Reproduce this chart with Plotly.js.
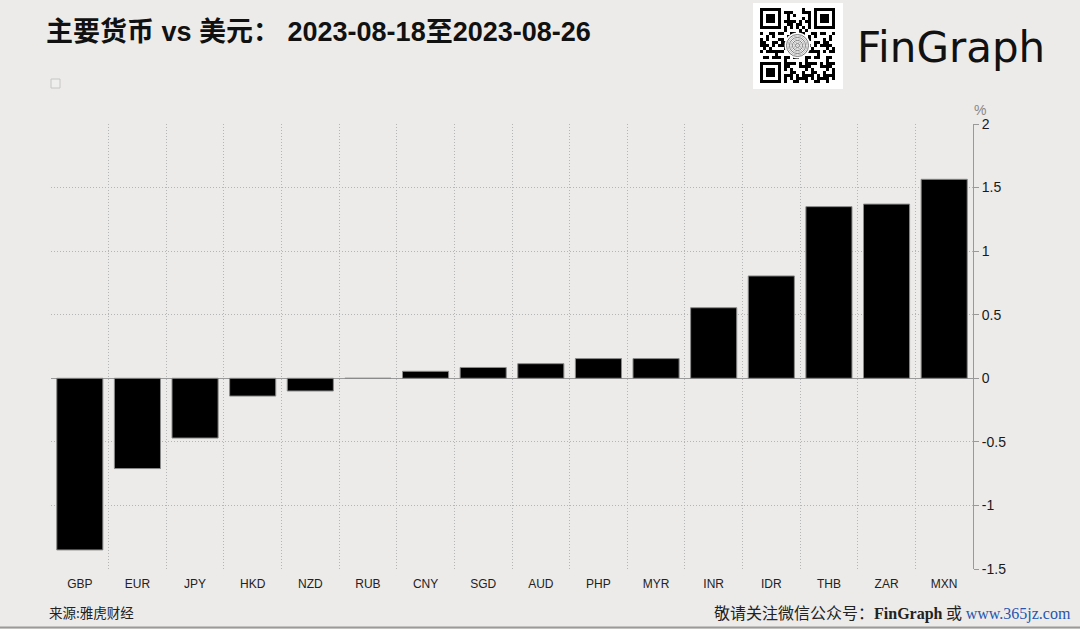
<!DOCTYPE html>
<html>
<head>
<meta charset="utf-8">
<script src="https://cdn.plot.ly/plotly-3.0.1.min.js"></script>
<style>
html,body{margin:0;padding:0;background:#ECEBE9;}
#chart{width:1080px;height:629px;}
</style>
</head>
<body>
<div id="chart"></div>
<script>
// ---- data ----
const currencies = ["GBP","EUR","JPY","HKD","NZD","RUB","CNY","SGD","AUD","PHP","MYR","INR","IDR","THB","ZAR","MXN"];
const changePct = [-1.35,-0.71,-0.47,-0.14,-0.10,0,0.055,0.085,0.115,0.155,0.155,0.555,0.805,1.35,1.37,1.565];
const yTickVals = [-1.5,-1,-0.5,0,0.5,1,1.5,2];
const yTickText = ["-1.5","-1","-0.5","0","0.5","1","1.5","2"];
const titleText = "主要货币 vs 美元： 2023-08-18至2023-08-26";
const sourceText = "来源:雅虎财经";

// ---- geometry helpers (plot area in pixels) ----
const PL = 51, PR = 973, PT = 124, PB = 569;
const px = v => (v - PL) / (PR - PL);
const py = v => (PB - v) / (PB - PT);

// decorative QR-like badge
function makeBadge(){
  const c = document.createElement('canvas');
  c.width = 90; c.height = 86;
  const g = c.getContext('2d');
  g.fillStyle = '#ffffff'; g.fillRect(0,0,90,86);
  const N = 25, m = 3, ox = 7, oy = 5;
  const on = (i,j)=>{ g.fillStyle='#000'; g.fillRect(ox+i*m, oy+j*m, m, m); };
  const finder = (fi,fj)=>{
    for(let a=0;a<7;a++)for(let b=0;b<7;b++){
      const edge = a===0||a===6||b===0||b===6;
      const core = a>=2&&a<=4&&b>=2&&b<=4;
      if(edge||core) on(fi+a,fj+b);
    }
  };
  const reserved = (i,j)=> (i<8&&j<8)||(i>=N-8&&j<8)||(i<8&&j>=N-8);
  for(let i=0;i<N;i++)for(let j=0;j<N;j++){
    if(reserved(i,j)) continue;
    if(i===6||j===6){ if((i+j)%2===0) on(i,j); continue; }
    const v = (i*i*3 + j*7 + i*j*5 + (j*j)%11) % 7;
    if(v<3) on(i,j);
  }
  finder(0,0); finder(N-7,0); finder(0,N-7);
  const cx = ox + 12.5*m, cy = oy + 12.5*m;
  g.fillStyle='#ffffff'; g.beginPath(); g.arc(cx,cy,13,0,Math.PI*2); g.fill();
  for(let r=11;r>0;r-=1.5){
    g.strokeStyle = (Math.round(r*2)%2===0)?'#777':'#bbb';
    g.lineWidth = 1;
    g.beginPath(); g.arc(cx,cy,r,0,Math.PI*2); g.stroke();
  }
  return c.toDataURL('image/png');
}

const trace = {
  type: 'bar',
  x: currencies,
  y: changePct,
  marker: {color: '#000000', line: {color: '#8a8a8a', width: 1}},
  hoverinfo: 'skip',
  showlegend: false
};

const gridDash = '1px,2px';

const layout = {
  width: 1080, height: 629, autosize: false,
  paper_bgcolor: '#ECEBE9', plot_bgcolor: '#ECEBE9',
  margin: {l: PL, r: 1080-PR, t: PT, b: 629-PB, pad: 0},
  bargap: 0.2,
  showlegend: false,
  font: {family: '"Liberation Sans", Arial, "Noto Sans CJK SC", sans-serif', color: '#222'},
  title: {
    text: titleText,
    font: {family: '"Liberation Sans", Arial, "Noto Sans CJK SC", sans-serif', size: 27, color: '#111', weight: 'bold'},
    xref: 'container', yref: 'container',
    x: 46/1080, xanchor: 'left',
    y: 1 - 32/629, yanchor: 'middle'
  },
  xaxis: {
    type: 'category',
    tickson: 'boundaries',
    showgrid: true, gridcolor: '#b5b5b5', griddash: gridDash, gridwidth: 1,
    showline: false, zeroline: false,
    ticks: '',
    tickfont: {size: 12, color: '#222', family: '"Liberation Sans", Arial, sans-serif'},
    ticklabelstandoff: 6,
    fixedrange: true
  },
  yaxis: {
    side: 'right',
    range: [-1.5, 2],
    tickmode: 'array', tickvals: yTickVals, ticktext: yTickText,
    showgrid: true, gridcolor: '#b5b5b5', griddash: gridDash, gridwidth: 1,
    zeroline: true, zerolinecolor: '#999999', zerolinewidth: 1,
    showline: true, linecolor: '#999999', linewidth: 1,
    ticks: 'outside', ticklen: 5, tickcolor: '#999999', tickwidth: 1,
    tickfont: {size: 14, color: '#1a1a1a', family: '"Liberation Sans", Arial, sans-serif'},
    fixedrange: true
  },
  shapes: [
    {type: 'rect', xref: 'paper', yref: 'paper', x0: px(51), x1: px(60), y0: py(88), y1: py(79),
     line: {color: '#c6c6c6', width: 1}, fillcolor: '#efefee'},
    {type: 'line', xref: 'paper', yref: 'paper', x0: px(0), x1: px(1080), y0: py(627.5), y1: py(627.5),
     line: {color: '#9a9a9a', width: 2}}
  ],
  images: [
    {source: makeBadge(), xref: 'paper', yref: 'paper', x: px(753), y: py(3), sizex: 90/(PR-PL), sizey: 86/(PB-PT),
     xanchor: 'left', yanchor: 'top', sizing: 'stretch', layer: 'above'}
  ],
  annotations: [
    {text: 'FinGraph', xref: 'paper', yref: 'paper', x: px(855), y: py(47), xanchor: 'left', yanchor: 'middle',
     showarrow: false, font: {family: '"DejaVu Sans", "Open Sans", sans-serif', size: 42, color: '#111'}},
    {text: '%', xref: 'paper', yref: 'paper', x: px(980), y: py(110), xanchor: 'center', yanchor: 'middle',
     showarrow: false, font: {size: 14, color: '#888'}},
    {text: sourceText, xref: 'paper', yref: 'paper', x: px(47), y: py(612), xanchor: 'left', yanchor: 'middle',
     showarrow: false, font: {family: '"Noto Sans CJK SC", sans-serif', size: 13.5, color: '#222'}},
    {text: '敬请关注微信公众号：<b><span style="font-family:\'Liberation Serif\', serif">FinGraph</span></b> 或 <span style="color:#2456b0;font-family:\'Liberation Serif\', serif">www.365jz.com</span>',
     xref: 'paper', yref: 'paper', x: px(1073), y: py(612), xanchor: 'right', yanchor: 'middle',
     showarrow: false, font: {family: '"Noto Sans CJK SC", sans-serif', size: 16, color: '#222'}}
  ]
};

Plotly.newPlot('chart', [trace], layout, {staticPlot: true, displayModeBar: false});
</script>
</body>
</html>
